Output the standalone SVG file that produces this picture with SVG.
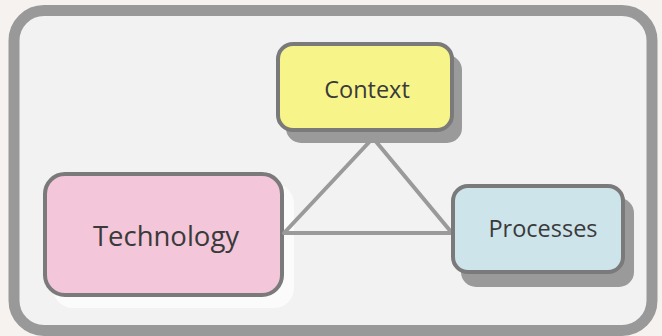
<svg xmlns="http://www.w3.org/2000/svg" width="662" height="336" viewBox="0 0 662 336">
<style>
.box{stroke:#7a7a7a;stroke-width:4}
.lbl{font-family:"Open Sans","Noto Sans",sans-serif;fill:#3a3a3a;text-anchor:middle;dominant-baseline:central}
.conn{stroke:#9a9a9a;stroke-width:4;fill:none;stroke-linecap:round}
</style>
<rect x="0" y="0" width="662" height="336" fill="#f6f2ef"/>
<rect x="14" y="10.5" width="638" height="320" rx="30" fill="#f2f2f2" stroke="#999999" stroke-width="11"/>
<g id="technology">
<rect x="53" y="184" width="241" height="124" rx="20" fill="#fbfbfb"/>
<rect x="45" y="174" width="237" height="121" rx="20" class="box" fill="#f3c6da"/>
<text x="166" y="235" class="lbl" font-size="27.5">Technology</text>
</g>
<g id="connectors">
<path class="conn" d="M373 138 L284 233 L452 233 Z" stroke-linejoin="round"/>
</g>
<g id="context">
<rect x="286" y="55" width="176" height="88" rx="15" fill="#9a9a9a"/>
<rect x="278" y="44" width="174" height="86" rx="15" class="box" fill="#f7f58a"/>
<text x="367" y="89" class="lbl" font-size="23.5">Context</text>
</g>
<g id="processes">
<rect x="461" y="198" width="173" height="89" rx="15" fill="#9a9a9a"/>
<rect x="453" y="186" width="170" height="86" rx="15" class="box" fill="#cde4ea"/>
<text x="543" y="228" class="lbl" font-size="23.5">Processes</text>
</g>
</svg>
